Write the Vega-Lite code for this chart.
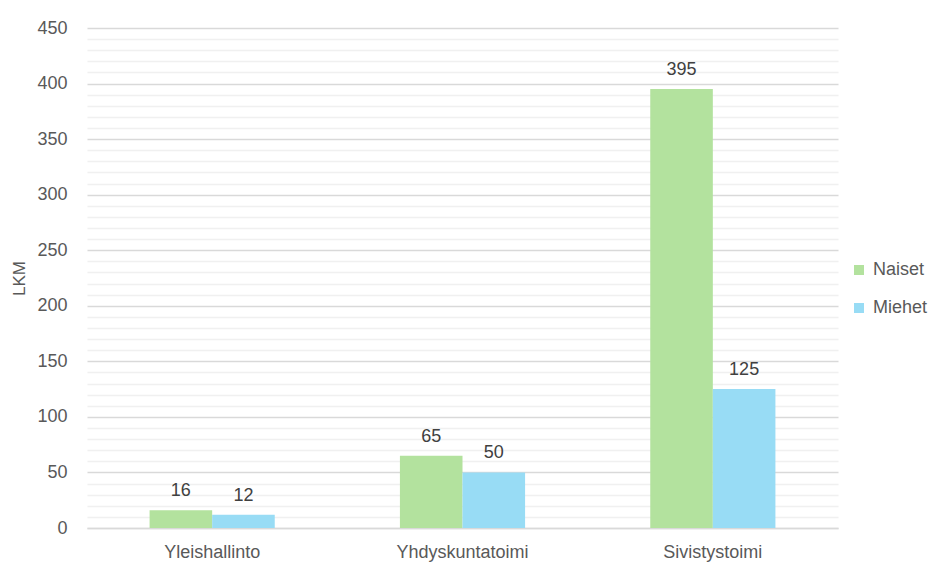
{
  "$schema": "https://vega.github.io/schema/vega-lite/v6.json",
  "autosize": "none",
  "width": 751,
  "height": 500,
  "padding": {"left": 87, "top": 28, "right": 106, "bottom": 37},
  "background": "white",
  "config": {
    "font": "Liberation Sans",
    "view": {"stroke": null},
    "axis": {"labelColor": "#595959", "titleColor": "#595959", "labelFontSize": 18, "labelFont": "Liberation Sans", "titleFont": "Liberation Sans"},
    "legend": {"labelColor": "#595959", "labelFontSize": 18, "labelFont": "Liberation Sans"}
  },
  "data": {
    "values": [
      {"ala": "Yleishallinto", "sukupuoli": "Naiset", "lkm": 16},
      {"ala": "Yleishallinto", "sukupuoli": "Miehet", "lkm": 12},
      {"ala": "Yhdyskuntatoimi", "sukupuoli": "Naiset", "lkm": 65},
      {"ala": "Yhdyskuntatoimi", "sukupuoli": "Miehet", "lkm": 50},
      {"ala": "Sivistystoimi", "sukupuoli": "Naiset", "lkm": 395},
      {"ala": "Sivistystoimi", "sukupuoli": "Miehet", "lkm": 125}
    ]
  },
  "encoding": {
    "x": {
      "field": "ala", "type": "nominal", "sort": ["Yleishallinto", "Yhdyskuntatoimi", "Sivistystoimi"],
      "scale": {"paddingInner": 0.5, "paddingOuter": 0.25},
      "axis": {"title": null, "labelAngle": 0, "ticks": false, "domainColor": "#d9d9d9", "domainWidth": 1.5, "labelPadding": 15}
    },
    "xOffset": {"field": "sukupuoli", "type": "nominal", "sort": ["Naiset", "Miehet"]},
    "y": {
      "field": "lkm", "type": "quantitative",
      "scale": {"domain": [0, 450], "nice": false},
      "axis": {
        "title": "LKM", "titleFontSize": 17, "titleFontWeight": "normal", "titlePadding": 8,
        "values": [0,10,20,30,40,50,60,70,80,90,100,110,120,130,140,150,160,170,180,190,200,210,220,230,240,250,260,270,280,290,300,310,320,330,340,350,360,370,380,390,400,410,420,430,440,450],
        "labelExpr": "datum.value % 50 === 0 ? datum.label : ''",
        "ticks": false, "domain": false, "labelPadding": 20,
        "gridColor": {"condition": {"test": "datum.value % 50 === 0", "value": "#d9d9d9"}, "value": "#f0f0f0"},
        "gridWidth": 1.5
      }
    }
  },
  "layer": [
    {
      "mark": {"type": "bar"},
      "encoding": {
        "color": {
          "field": "sukupuoli", "type": "nominal", "sort": ["Naiset", "Miehet"],
          "scale": {"domain": ["Naiset", "Miehet"], "range": ["#b3e29e", "#98dcf5"]},
          "legend": {"title": null, "orient": "none", "legendX": 763, "legendY": 233, "symbolType": "square", "symbolSize": 100, "rowPadding": 20, "labelOffset": 5}
        }
      }
    },
    {
      "mark": {"type": "text", "baseline": "bottom", "dy": -10, "fontSize": 18, "color": "#404040", "font": "Liberation Sans"},
      "encoding": {"text": {"field": "lkm", "type": "quantitative"}}
    }
  ]
}
